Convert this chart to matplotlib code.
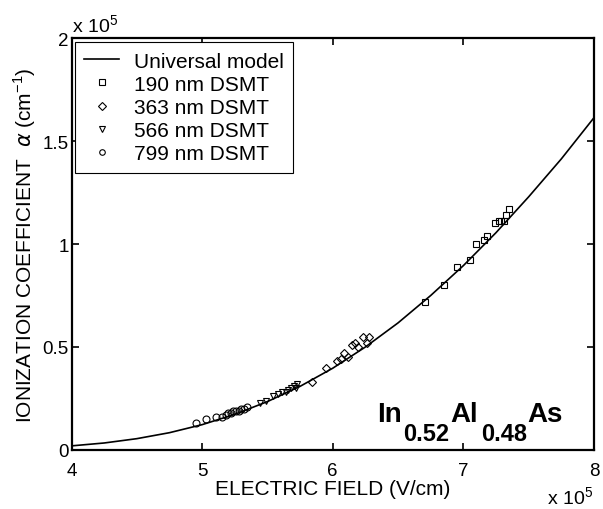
import matplotlib
matplotlib.use("Agg")
import matplotlib.pyplot as plt

plt.rcParams['font.family'] = ['Liberation Sans', 'DejaVu Sans']
plt.rcParams['mathtext.fontset'] = 'custom'
plt.rcParams['mathtext.rm'] = 'Liberation Sans'
plt.rcParams['mathtext.bf'] = 'Liberation Sans:bold'

# electric field in units of 1e5 V/cm, alpha in units of 1e5 cm^-1
model_field = [4.0, 4.25, 4.5, 4.75, 5.0, 5.25, 5.5, 5.75, 6.0, 6.25, 6.5, 6.75, 7.0, 7.25, 7.5, 7.75, 8.0]
model_alpha = [0.020, 0.034, 0.055, 0.084, 0.123, 0.173, 0.235, 0.309, 0.397, 0.500, 0.617, 0.750, 0.895, 1.055, 1.229, 1.413, 1.613]

f190 = [6.71, 6.85, 6.95, 7.05, 7.10, 7.16, 7.18, 7.24, 7.27, 7.29, 7.31, 7.33, 7.35]
a190 = [0.72, 0.80, 0.89, 0.92, 1.00, 1.02, 1.04, 1.10, 1.11, 1.11, 1.11, 1.14, 1.17]

f363 = [5.84, 5.95, 6.03, 6.06, 6.09, 6.12, 6.15, 6.17, 6.19, 6.23, 6.26, 6.28]
a363 = [0.33, 0.40, 0.43, 0.44, 0.47, 0.45, 0.51, 0.52, 0.50, 0.55, 0.52, 0.55]

f566 = [5.44, 5.49, 5.54, 5.58, 5.61, 5.64, 5.66, 5.68, 5.70, 5.72, 5.73]
a566 = [0.23, 0.24, 0.26, 0.27, 0.28, 0.28, 0.29, 0.30, 0.31, 0.30, 0.32]

f799 = [4.95, 5.03, 5.11, 5.15, 5.18, 5.20, 5.22, 5.24, 5.26, 5.28, 5.30, 5.32, 5.34]
a799 = [0.13, 0.15, 0.16, 0.16, 0.17, 0.18, 0.18, 0.19, 0.19, 0.19, 0.20, 0.20, 0.21]

xticks = [4, 5, 6, 7, 8]
yticks = [0, 0.5, 1, 1.5, 2]
ytick_labels = ['0', '0.5', '1', '1.5', '2']

W, H = 603, 510
fig = plt.figure(figsize=(W / 100, H / 100), dpi=100)
ax = fig.add_axes([0.1186, 0.1157, 0.8664, 0.8078])

ax.plot(model_field, model_alpha, 'k-', lw=1.2, label='Universal model')
mk = dict(ls='none', mfc='none', mec='k', mew=0.8)
ax.plot(f190, a190, 's', ms=5, label='190 nm DSMT', **mk)
ax.plot(f363, a363, 'D', ms=4.5, label='363 nm DSMT', **mk)
ax.plot(f566, a566, 'v', ms=5, label='566 nm DSMT', **mk)
ax.plot(f799, a799, 'o', ms=5, label='799 nm DSMT', **mk)

ax.set_xlim(4, 8)
ax.set_ylim(0, 2)
ax.set_xticks(xticks)
ax.set_xticklabels([str(t) for t in xticks])
ax.set_yticks(yticks)
ax.set_yticklabels(ytick_labels)
ax.tick_params(direction='in', top=True, right=True, length=5, width=1.2, labelsize=13.5)
ax.tick_params(axis='x', pad=9)
ax.tick_params(axis='y', pad=2)
for s in ax.spines.values():
    s.set_linewidth(1.6)

ax.set_xlabel('ELECTRIC FIELD (V/cm)', fontsize=15, labelpad=0)
ax.set_ylabel(r'IONIZATION COEFFICIENT  $\alpha$ (cm$^{-1}$)', fontsize=15, labelpad=3)

# exponent notes, placed like the original
fig.text(72 / W, 1 - 33 / H, r'x 10$^5$', fontsize=14, ha='left', va='baseline')
fig.text(547 / W, 1 - 505 / H, r'x 10$^5$', fontsize=14, ha='left', va='baseline')

# material label with low, large subscripts
pieces = [('In', 377, 422, 20), ('0.52', 403, 441, 17),
          ('Al', 450, 422, 20), ('0.48', 481, 441, 17), ('As', 527, 422, 20)]
for txt, px, py, fs in pieces:
    fig.text(px / W, 1 - py / H, txt, fontsize=fs, fontweight='bold', ha='left', va='baseline')

leg = ax.legend(loc='upper left', bbox_to_anchor=(0.006, 0.99), fontsize=15,
                frameon=True, fancybox=False, edgecolor='k', framealpha=1,
                handlelength=1.7, handletextpad=0.7, labelspacing=0.2,
                borderpad=0.45, borderaxespad=0, markerscale=0.8)
leg.get_frame().set_linewidth(0.8)

fig.savefig('out.png', dpi=100)
